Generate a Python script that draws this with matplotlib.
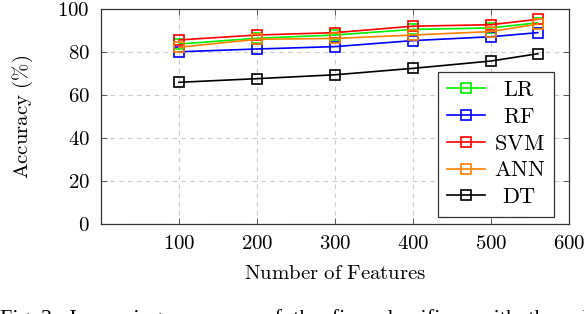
# Accuracy vs number of features for five classifiers

import matplotlib
matplotlib.use('Agg')
import matplotlib.pyplot as plt

plt.rcParams['font.family'] = 'Liberation Serif'
plt.rcParams['mathtext.fontset'] = 'cm'

# data
n_features = [100, 200, 300, 400, 500, 560]
acc_lr = [83.7, 86.4, 87.9, 90.5, 91.2, 93.6]
acc_rf = [80.1, 81.4, 82.5, 85.3, 87.1, 89.0]
acc_svm = [85.6, 87.9, 89.0, 92.0, 92.7, 95.2]
acc_ann = [82.2, 85.9, 86.3, 87.9, 89.5, 93.0]
acc_dt = [65.9, 67.6, 69.4, 72.4, 75.8, 79.2]

series = [('LR', acc_lr, '#00ee00'),
          ('RF', acc_rf, '#0000ff'),
          ('SVM', acc_svm, '#ff0000'),
          ('ANN', acc_ann, '#ff8000'),
          ('DT', acc_dt, '#000000')]

xticks = [100, 200, 300, 400, 500, 600]
yticks = [0, 20, 40, 60, 80, 100]

fig = plt.figure(figsize=(5.84, 3.14), dpi=100)
ax = fig.add_axes([101 / 584, 1 - 224 / 314, 468 / 584, 215 / 314])

for name, vals, col in series:
    ax.plot(n_features, vals, color=col, lw=1.2, marker='s', ms=7,
            mfc='none', mec=col, mew=1.2, label=r'$\mathrm{%s}$' % name)

ax.set_xlim(0, 600)
ax.set_ylim(0, 100)
ax.set_xticks(xticks)
ax.set_yticks(yticks)
ax.set_xticklabels(['$%d$' % t for t in xticks], fontsize=15)
ax.set_yticklabels(['$%d$' % t for t in yticks], fontsize=15)
ax.tick_params(direction='in', length=4, width=0.6, color='#444444',
               top=True, right=True, pad=8)
ax.grid(True, color='#cccccc', ls=(0, (4, 4)), lw=0.8)
for sp in ax.spines.values():
    sp.set_color('#333333')
    sp.set_linewidth(0.9)

ax.set_xlabel(r'$\mathrm{Number\ of\ Features}$', fontsize=15, labelpad=8)
ax.set_ylabel(r'$\mathrm{Accuracy\ (\%)}$', fontsize=15, labelpad=16)

leg = ax.legend(loc='lower right', bbox_to_anchor=(453 / 468, 7 / 215),
                borderaxespad=0, fontsize=16, handlelength=1.7,
                numpoints=1, fancybox=False, edgecolor='#333333',
                framealpha=1, labelspacing=0.28,
                handletextpad=0.4, borderpad=0.4)
leg.get_frame().set_linewidth(0.9)

# centre the legend labels in their column
fig.canvas.draw()
r = fig.canvas.get_renderer()
widths = [t.get_window_extent(r).width for t in leg.get_texts()]
for t, w in zip(leg.get_texts(), widths):
    t.set_x((max(widths) - w) / 2)

fig.text(0.0, 1 - 309 / 314,
         'Fig. 3:  Increasing  accuracy  of  the  five  classifiers  with  the  added',
         fontsize=16, va='top', ha='left')

fig.savefig('out.png', dpi=100)
